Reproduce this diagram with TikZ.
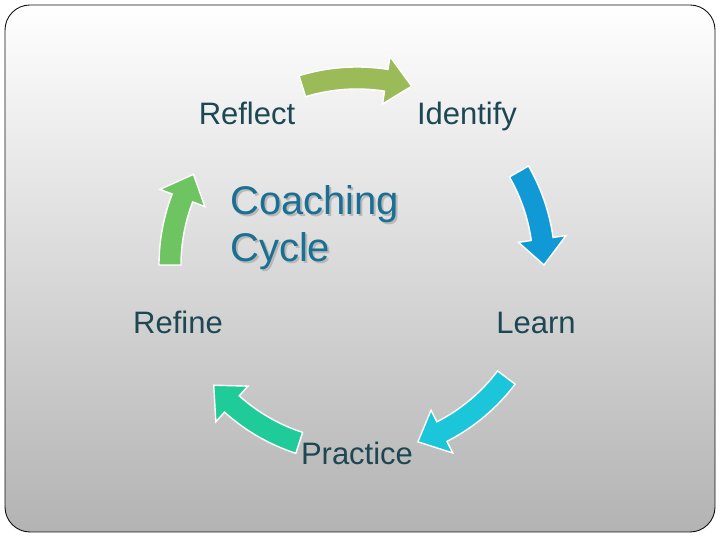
\documentclass[tikz,border=0pt]{standalone}
\usepackage{fontspec}
\setsansfont{Liberation Sans}
\usepackage{xcolor}
\definecolor{labeltext}{HTML}{1D4752}
\definecolor{titletext}{HTML}{1A6F92}
\definecolor{titleshade}{HTML}{B8B8B8}
\definecolor{slideedge}{HTML}{111111}
\definecolor{slidelow}{HTML}{B3B3B3}
\definecolor{arrolive}{HTML}{9BBB59}
\definecolor{arrblue}{HTML}{1199D6}
\definecolor{arrcyan}{HTML}{1CC6DA}
\definecolor{arrteal}{HTML}{1FCB98}
\definecolor{arrgreen}{HTML}{6DC461}
\usepackage{tikz}
\usetikzlibrary{arrows.meta, positioning, calc}

\begin{document}
\begin{tikzpicture}[
  x=1pt, y=1pt,
  font=\sffamily,
  steplabel/.style={
    text=labeltext, font=\fontsize{31}{34}\selectfont\sffamily,
    inner sep=0pt, anchor=base
  },
  titlelabel/.style={
    font=\fontsize{40}{47}\selectfont\sffamily, align=left,
    anchor=north west, inner sep=0pt
  },
  blockarr/.style={draw=white, line width=1.4pt, line join=miter}
]
  \useasboundingbox (0,0) rectangle (720,540);
  \shade[top color=white, bottom color=slidelow, draw=slideedge,
    line width=0.9pt, rounded corners=25pt] (5,8) rectangle (715,535);

  \coordinate (hub) at (357,275);

  \node[steplabel] (nidentify) at (467,415) {Identify};
  \node[steplabel] (nlearn)    at (536,206) {Learn};
  \node[steplabel] (npractice) at (357,75)  {Practice};
  \node[steplabel] (nrefine)   at (178,206) {Refine};
  \node[steplabel] (nreflect)  at (247,415) {Reflect};

  % curved block arrows: tail angle / tip angle / colour
  \begin{scope}[shift={(hub)}]
    \foreach \tl/\tp/\col in {107/73/arrolive, 30/0/arrblue,
        -37/-71/arrcyan, 252/220/arrteal, 180/151/arrgreen}{
      \pgfmathsetmacro{\hb}{\tp+8}
      \filldraw[blockarr, fill=\col]
        (\tl:198) arc[start angle=\tl, end angle=\hb, radius=198]
        -- (\hb:211) -- (\tp:187) -- (\hb:163) -- (\hb:176)
        arc[start angle=\hb, end angle=\tl, radius=176] -- cycle;
    }
  \end{scope}

  \node[titlelabel, text=titleshade] (ntitleshade) at (232,353)
    {Coaching\\Cycle};
  \node[titlelabel, text=titletext] (ntitle) at (230,355)
    {Coaching\\Cycle};
\end{tikzpicture}
\end{document}
